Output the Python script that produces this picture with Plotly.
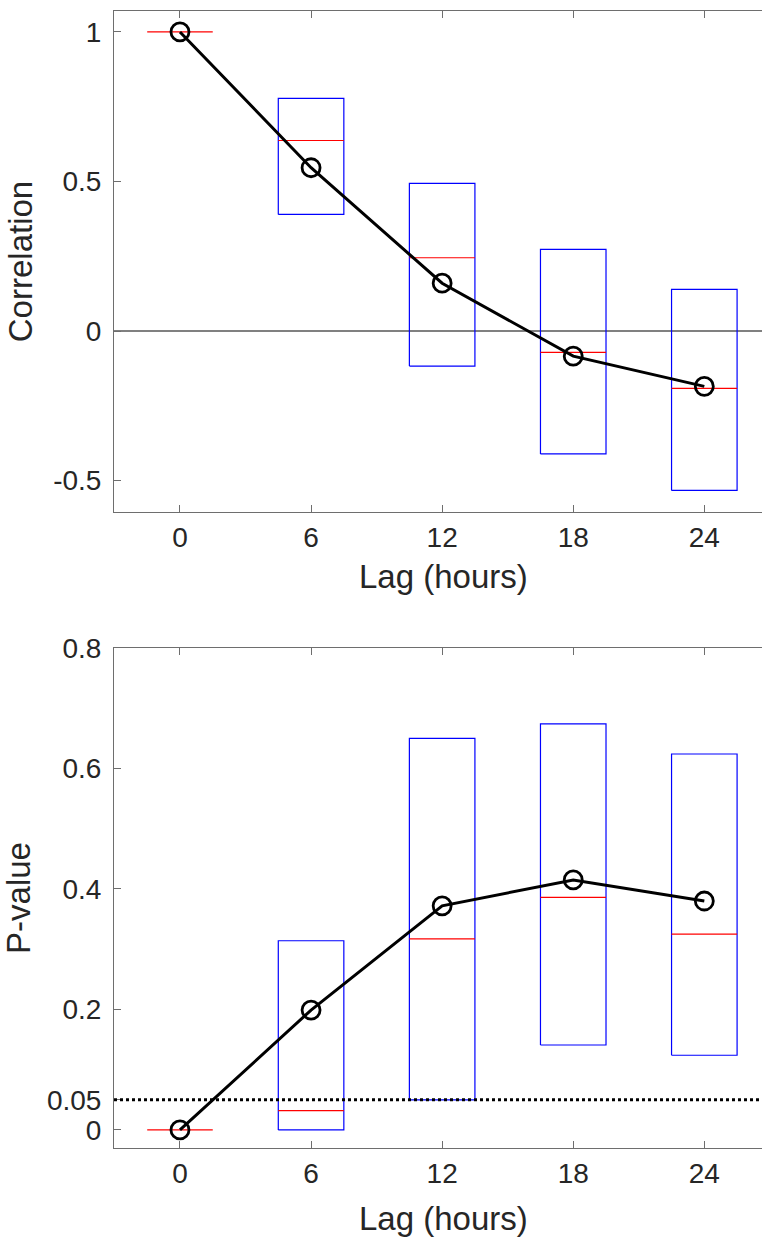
import plotly.graph_objects as go

# Lags in hours
lags = [0, 6, 12, 18, 24]
x_tick_labels = ["0", "6", "12", "18", "24"]

# Correlation summary per lag
corr_mean = [1.0, 0.546, 0.160, -0.084, -0.185]
corr_median = [1.0, 0.637, 0.245, -0.071, -0.192]
corr_q1 = [1.0, 0.390, -0.117, -0.411, -0.533]
corr_q3 = [1.0, 0.778, 0.494, 0.273, 0.139]

# P-value summary per lag
p_mean = [0.0, 0.199, 0.372, 0.415, 0.380]
p_median = [0.0, 0.032, 0.317, 0.386, 0.325]
p_q1 = [0.0, 0.0, 0.05, 0.141, 0.124]
p_q3 = [0.0, 0.314, 0.650, 0.674, 0.624]

p_tick_vals = [0, 0.05, 0.2, 0.4, 0.6, 0.8]
p_tick_labels = ["0", "0.05", "0.2", "0.4", "0.6", "0.8"]
corr_tick_vals = [-0.5, 0, 0.5, 1]
corr_tick_labels = ["-0.5", "0", "0.5", "1"]
significance = 0.05

BOX_HALF = 1.5
W, H = 762, 1237
FONT = "Liberation Sans, Arial, sans-serif"
TXT = "#262626"
AX = "#6e6e6e"

fig = go.Figure()


def add_panel(xa, ya, q1, q3, med, mean):
    for c, lo, hi in zip(lags, q1, q3):
        if hi == lo:
            continue  # collapsed box: only the median line shows
        fig.add_trace(go.Scatter(
            x=[c - BOX_HALF, c + BOX_HALF, c + BOX_HALF, c - BOX_HALF, c - BOX_HALF],
            y=[lo, lo, hi, hi, lo], mode="lines",
            line=dict(color="#0000ff", width=1.2),
            xaxis=xa, yaxis=ya, hoverinfo="skip", showlegend=False))
    for c, m in zip(lags, med):
        fig.add_trace(go.Scatter(
            x=[c - BOX_HALF, c + BOX_HALF], y=[m, m], mode="lines",
            line=dict(color="#ff0000", width=1.2),
            xaxis=xa, yaxis=ya, hoverinfo="skip", showlegend=False))
    fig.add_trace(go.Scatter(
        x=lags, y=mean, mode="lines+markers",
        line=dict(color="black", width=3),
        marker=dict(symbol="circle-open", size=18, color="black",
                    line=dict(width=2.8, color="black")),
        xaxis=xa, yaxis=ya, showlegend=False))


add_panel("x", "y", corr_q1, corr_q3, corr_median, corr_mean)
add_panel("x2", "y2", p_q1, p_q3, p_median, p_mean)

# significance threshold on the p-value panel
fig.add_shape(type="line", xref="x2 domain", yref="y2",
              x0=0, x1=1, y0=significance, y1=significance,
              line=dict(color="black", width=3, dash="dot"))

x_range = [-3.02, 26.64]


def y_dom(top_px, bot_px):
    return [(H - bot_px) / H, (H - top_px) / H]


common_x = dict(range=x_range, tickvals=lags, ticktext=x_tick_labels,
                showline=True, linecolor=AX, linewidth=1,
                ticks="inside", ticklen=7, tickcolor=AX,
                showgrid=False, zeroline=False, automargin=False,
                tickfont=dict(size=28, color=TXT, family=FONT))
common_y = dict(showline=True, linecolor=AX, linewidth=1,
                ticks="inside", ticklen=7, tickcolor=AX, automargin=False,
                showgrid=False, ticklabelstandoff=6,
                tickfont=dict(size=28, color=TXT, family=FONT))

top_frame = dict(range=x_range, tickvals=lags, showticklabels=False,
                 showline=True, linecolor=AX, linewidth=1, side="top",
                 ticks="inside", ticklen=7, tickcolor=AX, automargin=False,
                 showgrid=False, zeroline=False)

fig.update_layout(
    width=W, height=H,
    margin=dict(l=114, r=0, t=0, b=0, autoexpand=False),
    paper_bgcolor="white", plot_bgcolor="white",
    font=dict(family=FONT, color=TXT),
    xaxis=dict(**common_x, domain=[0, 1], anchor="y"),
    yaxis=dict(**common_y, domain=y_dom(11, 512), anchor="x",
               range=[-0.605, 1.070], tickvals=corr_tick_vals,
               ticktext=corr_tick_labels,
               zeroline=True, zerolinecolor="#808080", zerolinewidth=1.5,
               title=dict(text="Correlation", standoff=10,
                          font=dict(size=33, color=TXT, family=FONT))),
    xaxis2=dict(**common_x, domain=[0, 1], anchor="y2"),
    yaxis2=dict(**common_y, domain=y_dom(648, 1148), anchor="x2",
                range=[-0.030, 0.800], tickvals=p_tick_vals,
                ticktext=p_tick_labels, zeroline=False,
                title=dict(text="P-value", standoff=10,
                           font=dict(size=33, color=TXT, family=FONT))),
    xaxis3=dict(**top_frame, overlaying="x", anchor="y"),
    xaxis4=dict(**top_frame, overlaying="x2", anchor="y2"),
)

# x-axis titles, centred under the full axes box
x_title_center = (443 - 114) / (W - 114)
for y_px in (577, 1218):
    fig.add_annotation(text="Lag (hours)", xref="paper", yref="paper",
                       x=x_title_center, y=(H - y_px) / H,
                       xanchor="center", yanchor="middle", showarrow=False,
                       font=dict(size=33, color=TXT, family=FONT))

# invisible traces so the mirrored top axes are rendered
fig.add_trace(go.Scatter(x=[lags[0]], y=[corr_mean[0]], xaxis="x3", yaxis="y",
                         mode="markers", marker=dict(opacity=0),
                         hoverinfo="skip", showlegend=False))
fig.add_trace(go.Scatter(x=[lags[0]], y=[p_mean[0]], xaxis="x4", yaxis="y2",
                         mode="markers", marker=dict(opacity=0),
                         hoverinfo="skip", showlegend=False))

fig.write_html("out.html")
